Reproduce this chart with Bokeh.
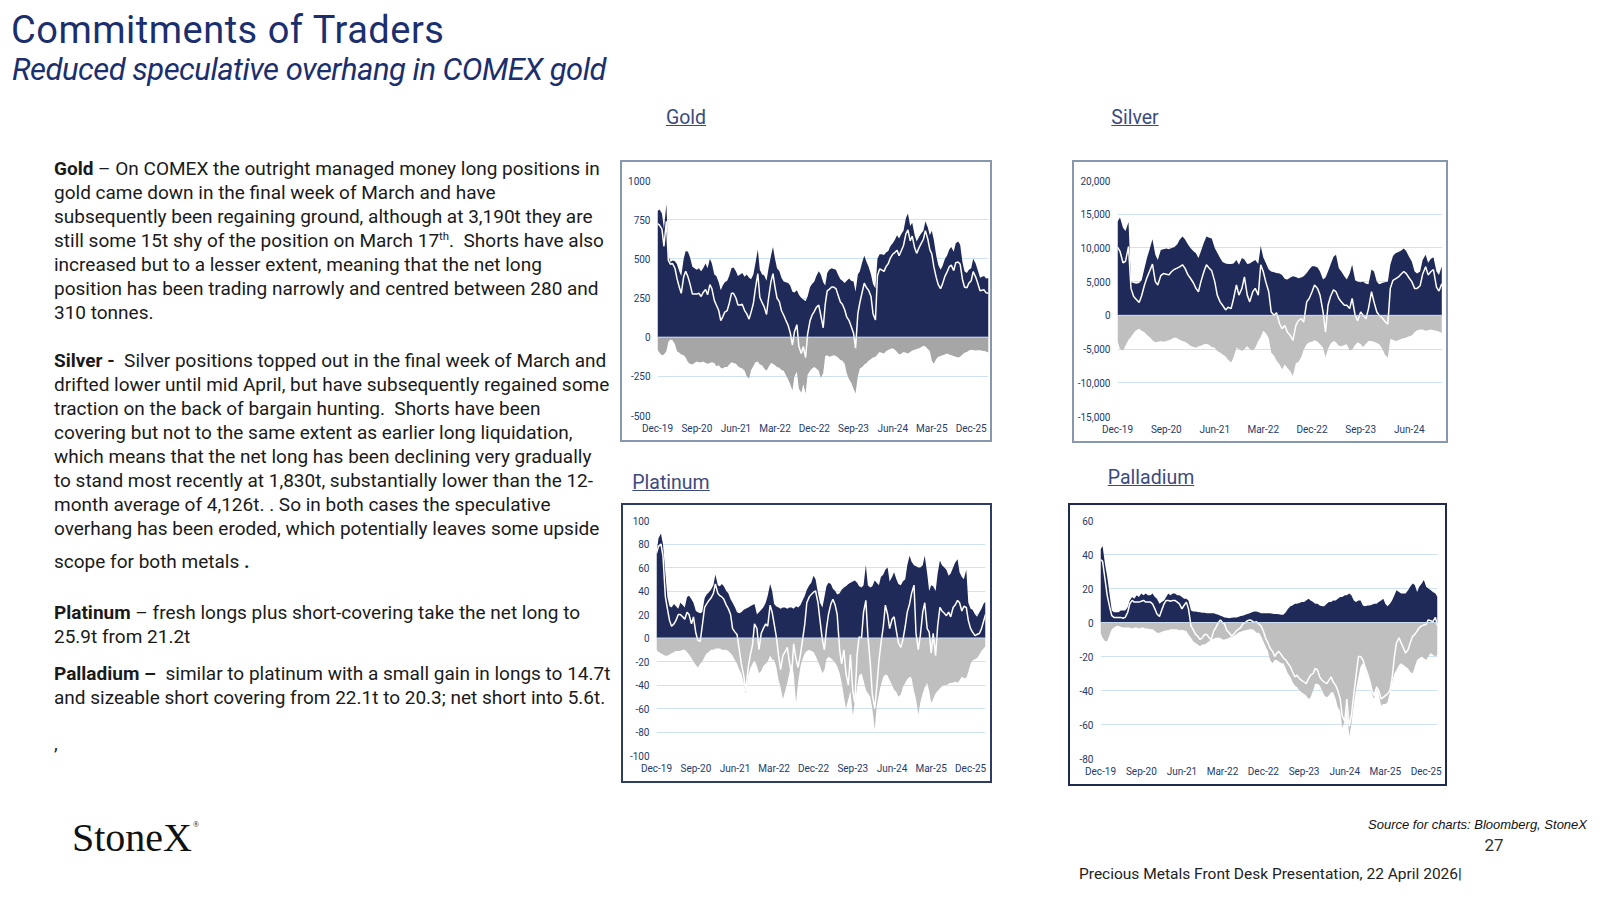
import pandas as pd
from bokeh.plotting import figure
from bokeh.models import (ColumnDataSource, Range1d, FixedTicker, DatetimeTickFormatter,
                          NumeralTickFormatter, Div, Spacer, Span)
from bokeh.layouts import row, column
from bokeh.embed import file_html
from bokeh.resources import INLINE

# ---------------- DATA (semi-monthly readings, Dec-19 onwards) ----------------
gold_long = [805, 815,
             790, 690, 850, 520, 480, 490, 485, 465, 420, 390, 500, 550, 545, 510, 450, 440, 430, 440, 420, 440, 470, 440, 500, 470,
             400, 390, 350, 300, 330, 350, 360, 390, 440, 445, 420, 390, 400, 410, 385, 400, 380, 370, 400, 470, 560, 430, 400, 395,
             360, 440, 520, 575, 500, 440, 420, 380, 355, 350, 345, 330, 290, 285, 300, 270, 250, 240, 230, 260, 320, 340, 355, 390,
             420, 400, 350, 330, 410, 430, 440, 435, 430, 400, 370, 360, 345, 360, 375, 360, 355, 290, 400, 420, 480, 520, 480, 450,
             400, 340, 310, 500, 530, 530, 525, 540, 550, 580, 600, 620, 650, 630, 660, 680, 760, 790, 710, 730, 650, 610, 640, 660,
             680, 740, 700, 650, 680, 620, 520, 460, 430, 455, 500, 520, 560, 575, 545, 600, 610, 590, 480, 420, 410, 430, 440, 500,
             470, 430, 380, 385, 390, 375, 378]
gold_short = [-80, -100,
              -115, -110, -90, -30, -15, -20, -45, -90, -100, -110, -115, -130, -160, -170, -175, -165, -155, -160, -160, -155, -165, -170, -165, -160,
              -165, -185, -180, -195, -200, -190, -190, -175, -160, -165, -170, -185, -195, -200, -215, -250, -265, -210, -185, -160, -155, -175, -180, -200,
              -215, -190, -165, -170, -180, -190, -195, -210, -215, -240, -270, -300, -340, -250, -220, -330, -355, -300, -360, -240, -215, -200, -190, -200,
              -215, -260, -230, -120, -115, -125, -120, -115, -120, -130, -145, -150, -170, -230, -270, -290, -330, -360, -250, -200, -190, -175, -165, -150,
              -140, -130, -125, -110, -95, -100, -105, -90, -80, -75, -70, -80, -95, -110, -105, -95, -100, -105, -95, -85, -80, -75, -70, -65,
              -55, -60, -75, -90, -150, -170, -140, -125, -120, -115, -110, -105, -110, -115, -120, -125, -130, -125, -110, -100, -95, -85, -80, -82,
              -85, -83, -84, -86, -88, -92, -98]
gold_net = [725, 715,
            690, 580, 740, 490, 465, 470, 440, 375, 320, 280, 385, 420, 385, 340, 275, 275, 275, 280, 260, 285, 305, 270, 335, 310,
            235, 205, 170, 105, 130, 160, 170, 215, 280, 280, 250, 205, 205, 210, 170, 150, 115, 160, 215, 310, 405, 255, 220, 195,
            145, 250, 355, 405, 320, 250, 225, 170, 140, 110, 75, 30, -50, 35, 80, -60, -105, -60, -130, 20, 105, 140, 165, 190,
            205, 140, 60, 210, 295, 305, 320, 320, 310, 270, 225, 210, 175, 130, 105, 70, 25, -70, 150, 220, 290, 345, 315, 300,
            260, 150, 110, 390, 435, 430, 420, 450, 470, 505, 530, 540, 555, 520, 555, 585, 660, 685, 615, 645, 570, 535, 570, 595,
            625, 680, 625, 560, 530, 450, 380, 335, 310, 340, 390, 415, 450, 460, 425, 475, 480, 465, 370, 320, 315, 345, 360, 418,
            385, 347, 296, 299, 302, 283, 280]

silver_long = [13900, 14500,
               13000, 12500, 13800, 4900, 4800, 4700, 4800, 5200, 7000, 8500, 10000, 11300, 9000, 8200, 9700, 9800, 9900, 9800, 10000, 10100, 10500, 11200, 11700, 11300,
               10500, 10000, 9500, 9200, 8500, 9500, 10800, 11700, 11500, 11400, 10000, 9300, 8500, 7900, 7700, 7600, 7600, 7700, 8200, 7500, 8500, 8300, 7600, 7700,
               8000, 8200, 7600, 10300, 8600, 7800, 6800, 6500, 6400, 6300, 6200, 6000, 5400, 5300, 5600, 5800, 5700, 5500, 5600, 5800, 6300, 6800, 7300, 7300,
               7100, 6500, 5300, 5600, 6500, 7500, 8700, 9000, 7000, 6500, 5800, 5300, 6200, 7500, 5200, 5000, 4900, 5000, 4700, 4600, 6800, 6500, 5000, 4600,
               4800, 4900, 5000, 7500, 8800, 9200, 9400, 9600, 9900, 9500, 8600, 8000, 6500, 6200, 6500, 8200, 9000, 7800, 8400, 8600, 6500, 6000, 7300]
silver_short = [-3800, -5000,
                -5200, -4500, -3600, -3200, -2600, -2200, -2000, -2300, -2500, -2900, -3300, -3700, -4000, -3900, -3800, -3900, -3800, -3700, -3500, -3300, -3400, -3600, -3800, -3900,
                -4200, -4500, -4700, -4800, -4600, -4500, -4300, -4200, -4400, -4700, -4800, -5300, -5500, -5800, -6100, -6600, -7000, -6200, -4800, -5000, -5300, -5000, -4600, -5000,
                -5200, -4800, -3800, -3200, -2300, -2600, -3400, -5500, -6000, -6700, -7300, -8000, -7300, -7800, -8300, -9000, -7100, -6900, -6200, -5100, -4300, -4000, -3900, -3700,
                -3900, -4300, -4800, -6200, -5000, -4200, -3800, -4000, -4500, -4600, -4400, -4300, -5200, -5100, -4400, -4000, -4300, -4700, -4200, -3800, -3800, -3900, -4100, -4300,
                -5000, -5800, -6300, -3500, -3600, -3800, -3700, -3500, -3400, -3300, -3100, -3000, -2500, -2200, -2100, -2100, -2300, -2200, -2100, -2200, -2300, -2400, -2600]
silver_net = [10100, 9500,
              7800, 8000, 10200, 4000, 2800, 2400, 1900, 2900, 4500, 5600, 6700, 7600, 5000, 4500, 5900, 6200, 6100, 6000, 6500, 6800, 7000, 7200, 7500, 7000,
              6000, 5500, 4800, 4000, 3500, 5000, 6500, 7500, 7000, 6600, 5000, 3000, 2000, 1500, 800, 1200, 1000, 2500, 4500, 3000, 4000, 5700, 3000, 2000,
              3500, 4000, 3000, 7500, 6500, 5000, 3500, 500, 0, 400, -1200, -2000, -1500, -2500, -3000, -3700, -1500, -800, -500, -1000, 2000, 2500, 3500, 4500,
              4000, 3000, 500, -2500, 1500, 2800, 3800, 3500, 2500, 2000, 1500, 1500, 1000, 2500, 0, -800, 500, 0, -500, 1000, 3500, 2000, 500, 0,
              -400, -900, -1300, 4000, 5200, 5400, 5700, 6100, 6500, 6200, 5500, 5000, 4000, 4000, 4400, 6100, 7200, 6000, 6500, 6800, 4200, 3600, 4700]

plat_long = [72, 85,
             89, 80, 55, 35, 27, 26, 29, 27, 25, 30, 28, 26, 35, 36, 33, 30, 23, 22, 21, 22, 34, 37, 39, 41,
             45, 54, 45, 44, 46, 44, 40, 38, 33, 30, 26, 22, 21, 22, 24, 25, 26, 27, 28, 29, 20, 22, 24, 26,
             30, 36, 46, 40, 29, 27, 26, 25, 26, 26, 25, 26, 26, 25, 27, 26, 28, 32, 36, 41, 45, 47, 53, 50,
             38, 30, 26, 35, 44, 47, 46, 42, 40, 37, 38, 41, 43, 44, 46, 47, 48, 49, 47, 44, 43, 45, 62, 45,
             43, 44, 49, 47, 45, 52, 54, 58, 60, 48, 52, 56, 50, 46, 45, 48, 50, 62, 70, 65, 62, 61, 60, 60,
             62, 70, 55, 40, 45, 44, 40, 55, 66, 62, 60, 58, 53, 55, 60, 64, 67, 56, 52, 50, 58, 30, 25, 24,
             20, 18, 22, 25, 29, 31]
plat_short = [-10, -12,
              -13, -14, -15, -15, -14, -13, -12, -11, -11, -11, -10, -10, -12, -14, -17, -20, -23, -25, -22, -20, -16, -13, -12, -10,
              -10, -9, -9, -9, -10, -10, -10, -11, -13, -15, -19, -22, -27, -30, -38, -47, -32, -26, -22, -19, -24, -30, -28, -24,
              -22, -20, -15, -18, -19, -24, -36, -42, -52, -46, -38, -30, -22, -30, -55, -38, -24, -18, -13, -11, -10, -11, -12, -15,
              -20, -24, -30, -27, -18, -16, -17, -19, -21, -24, -30, -38, -50, -60, -52, -45, -66, -55, -42, -32, -30, -36, -44, -47,
              -50, -60, -78, -58, -48, -40, -33, -31, -32, -36, -40, -44, -46, -50, -48, -42, -38, -35, -33, -34, -45, -52, -65, -55,
              -47, -42, -38, -45, -55, -52, -47, -45, -43, -41, -40, -40, -39, -38, -38, -37, -38, -36, -33, -34, -34, -29, -22, -19,
              -18, -17, -14, -11, -9, -7]
plat_net = [72, 78,
            80, 70, 35, 25, 15, 10, 12, 15, 20, 20, 18, 16, 22, 20, 12, 18, 4, -2, -3, 10, 26, 29, 32, 34,
            38, 46, 38, 36, 35, 33, 28, 25, 20, 8, 5, 3, -10, -22, -32, -45, -25, -15, -6, 12, 8, -10, 4, 8,
            12, 10, 28, 22, 12, 2, -15, -27, -15, -12, -8, -20, -32, -5, -18, -25, -14, -2, 12, 30, 35, 37, 39, 40,
            30, 15, -2, -10, 8, 20, 29, 33, 28, 20, -10, -22, -10, -30, -40, -14, -45, -55, -14, 1, 0, 22, 32, 2,
            -22, -48, -60, -42, -20, -5, 10, 28, 20, 8, 16, 18, 6, -4, -8, -2, 10, 22, 29, 38, 45, 4, -10, 2,
            22, 30, 8, 5, -13, 4, -15, 10, 26, 23, 21, 19, 22, 18, 26, 28, 32, 30, 23, 27, 26, 15, 8, 5,
            2, 3, 4, 8, 14, 20]

pall_long = [43, 45,
             34, 27, 16, 7, 6, 6, 6, 7, 7, 7, 9, 13, 15, 14, 16, 15, 17, 16, 17, 16, 16, 17, 15, 14,
             11, 12, 13, 15, 17, 16, 17, 17, 16, 16, 15, 14, 14, 13, 7, 6.5, 6.4, 6.2, 6, 5.8, 5.7, 5.5, 5.5, 5.5,
             5.4, 5, 4.5, 4, 3.5, 3, 2.8, 2.5, 2.8, 3, 3, 3.3, 3.8, 4, 4.5, 5, 5.5, 6, 6.5, 6.4, 6, 5.5, 5.5, 5.5,
             5.5, 5.5, 5.2, 5, 5, 4.8, 4.5, 4.5, 6, 8, 9.5, 10, 11, 11, 11.5, 12, 12, 13, 14, 13, 12, 11, 11, 10,
             9.5, 9.5, 11, 12, 12, 13, 13, 14, 15, 15, 16, 16, 17, 16, 13, 12, 13, 13, 10, 9.5, 10, 10, 10.5, 11,
             11, 12, 13, 14, 11, 9.5, 11, 13, 16, 19, 18, 17, 17, 17, 19, 21, 23, 22, 18, 21, 23, 25, 21, 20,
             19, 18, 17, 15]
pall_short = [-6, -9,
              -11, -11, -7, -4, -3, -2, -2, -2.5, -3, -3, -3, -3, -3.5, -3, -3, -3.5, -3, -3, -3.5, -3.5, -4, -4, -5, -6,
              -6, -5.5, -5, -4.5, -4.5, -4, -4, -4, -4, -4.5, -4.3, -4.5, -5, -7, -9, -11, -12, -13, -14, -13, -13, -12, -11, -10,
              -9.5, -9, -9, -9, -10, -10, -9.5, -9, -8.5, -8, -7, -6, -5.5, -5, -4.5, -4.3, -4, -4, -4.5, -6, -6, -8, -11, -14,
              -17, -22, -24, -22, -22, -23, -24, -24, -27, -30, -32, -35, -37, -38, -40, -41, -42, -43, -45, -44, -40, -36, -36, -37,
              -40, -43, -44, -43, -41, -41, -45, -50, -52, -62, -58, -50, -67, -60, -48, -40, -32, -26, -24, -26, -31, -34, -42, -45,
              -37, -42, -49, -48, -48, -47, -41, -35, -30, -28, -25, -24, -25, -26, -27, -29, -30, -26, -22, -21, -20, -21, -22, -20,
              -18, -19, -20, -19]
pall_net = [37, 36,
            25, 16, 9, 4, 3, 3, 3, 3, 2.5, 3, 6, 11, 13, 12, 12, 12, 12.5, 13, 12, 12, 12, 11, 8, 5,
            3.5, 7, 11, 13, 13, 12.5, 13, 13, 12, 11, 8, 10, 12, 8, -2, -4, -7, -8, -10, -9, -7, -7, -9, -10,
            -5, -3, 0, 1.5, 0, -1, -5, -6, -8, -7, -5, -4, -3, -1, 0, 1, 1.5, 1, 0, 0.5, -1, -2, -5, -9,
            -12, -15, -17, -20, -18, -17, -19, -21, -22, -24, -26, -29, -32, -31, -33, -34, -35, -36, -33, -31, -30, -27, -28, -32,
            -34, -35, -36, -34, -32, -35, -37, -40, -45, -55, -58, -45, -61, -55, -42, -32, -20, -20, -22, -26, -30, -34, -40, -43,
            -38, -40, -45, -44, -43, -42, -40, -33, -20, -12, -9, -12, -15, -18, -16, -12, -8, -7, -5, -3, -2, -1.5, -1, 1.5,
            1, 0.5, 3, -2]

gold_xticks = ["2019-12-01", "2020-09-01", "2021-06-01", "2022-03-01", "2022-12-01",
               "2023-09-01", "2024-06-01", "2025-03-01", "2025-12-01"]
silver_xticks = gold_xticks[:7]
gold_yticks = [-500, -250, 0, 250, 500, 750, 1000]
silver_yticks = [-15000, -10000, -5000, 0, 5000, 10000, 15000, 20000]
plat_yticks = [-100, -80, -60, -40, -20, 0, 20, 40, 60, 80, 100]
pall_yticks = [-80, -60, -40, -20, 0, 20, 40, 60]

# ---------------- STYLE ----------------
NAVY = "#1f2a58"
GRID = "#cfe2f3"
TICK_COLOR = "#243b6b"
TICK_FONT = "Roboto"


def ms(d):
    return pd.Timestamp(d).value // 10**6


def chart(long, short, net, xticks, yticks, xstart, xend, w, h, mb, short_color,
          border_color, num_fmt="0"):
    dates = pd.date_range(xstart, periods=len(long), freq="SMS")
    src = ColumnDataSource(dict(date=dates, long=long, short=short, net=net))
    p = figure(width=w, height=h, x_axis_type="datetime",
               x_range=Range1d(pd.Timestamp(xstart), pd.Timestamp(xend)),
               y_range=Range1d(yticks[0], yticks[-1]),
               output_backend="svg", toolbar_location=None,
               min_border_left=mb[0], min_border_right=mb[1],
               min_border_top=mb[2], min_border_bottom=mb[3],
               background_fill_color="white", border_fill_color="white",
               styles={"border": f"2px solid {border_color}", "box-sizing": "border-box"})
    p.outline_line_color = None
    p.varea(x="date", y1=0, y2="long", source=src, fill_color=NAVY)
    p.varea(x="date", y1=0, y2="short", source=src, fill_color=short_color)
    p.add_layout(Span(location=0, dimension="width", line_color="#c9dcf0", line_width=1))
    p.line(x="date", y="net", source=src, line_color="white", line_width=1.5)

    p.xaxis.ticker = FixedTicker(ticks=[ms(d) for d in xticks])
    fmt = "%b-%y"
    p.xaxis.formatter = DatetimeTickFormatter(
        microseconds=fmt, milliseconds=fmt, seconds=fmt, minsec=fmt, minutes=fmt,
        hourmin=fmt, hours=fmt, days=fmt, months=fmt, years=fmt)
    p.yaxis.ticker = FixedTicker(ticks=yticks)
    p.yaxis.formatter = NumeralTickFormatter(format=num_fmt)
    for ax in (p.xaxis[0], p.yaxis[0]):
        ax.axis_line_color = None
        ax.major_tick_line_color = None
        ax.minor_tick_line_color = None
        ax.major_tick_out = 0
        ax.major_tick_in = 0
        ax.major_label_text_font = TICK_FONT
        ax.major_label_text_font_size = "10px"
        ax.major_label_text_color = TICK_COLOR
    p.xaxis.major_label_standoff = 7
    p.yaxis.major_label_standoff = 7
    p.xgrid.grid_line_color = None
    p.ygrid.grid_line_color = GRID
    p.ygrid.grid_line_width = 1
    return p


gold_p = chart(gold_long, gold_short, gold_net, gold_xticks, gold_yticks,
               "2019-12-01", "2026-04-01", 372, 282, (35, 6, 14, 29), "#a6a6a6", "#8797ad")
silver_p = chart(silver_long, silver_short, silver_net, silver_xticks, silver_yticks,
                 "2019-12-01", "2024-12-05", 376, 283, (43, 8, 18, 27), "#bfbfbf", "#8797ad", "0,0")
plat_p = chart(plat_long, plat_short, plat_net, gold_xticks, plat_yticks,
               "2019-12-01", "2026-03-15", 371, 280, (33, 9, 15, 27), "#bfbfbf", "#2e3c66")
pall_p = chart(pall_long, pall_short, pall_net, gold_xticks, pall_yticks,
               "2019-12-01", "2026-02-15", 379, 283, (30, 12, 14, 30), "#bfbfbf", "#1f2a50")

# ---------------- TEXT HELPERS ----------------
METRICS = {"Roboto": (0.928, 0.244), "Liberation Serif": (0.891, 0.216),
           "Liberation Sans": (0.905, 0.212)}


def txt(x, base, html, size, fam="Roboto", color="#1a1a1a", weight=400, style="normal",
        align="left", ls=0, deco="none", lhf=1.0):
    asc, desc = METRICS[fam]
    lh = size * lhf
    top = base - ((lh - (asc + desc) * size) / 2 + asc * size)
    if align == "left":
        pos = f"left:{x}px;"
    elif align == "center":
        pos = f"left:{x}px;transform:translateX(-50%);"
    else:
        pos = f"right:{x}px;"
    return (f'<div style="position:absolute;{pos}top:{top:.1f}px;font-family:\'{fam}\';'
            f'font-size:{size}px;line-height:{lh:.1f}px;color:{color};font-weight:{weight};'
            f'font-style:{style};letter-spacing:{ls}px;text-decoration:{deco};'
            f'white-space:nowrap;">{html}</div>')


def box(w, h, parts):
    inner = "".join(parts)
    return Div(text=f'<div style="position:relative;width:{w}px;height:{h}px;">{inner}</div>',
               width=w, height=h, margin=0)


TITLE_C = "#1b2f6e"
header = box(1584, 95, [
    txt(3, 35, "Commitments of Traders", 38, color=TITLE_C, ls=0.5, lhf=0.85),
    txt(4, 73, "Reduced speculative overhang in COMEX gold", 31, color=TITLE_C,
        style="italic", ls=-0.5, lhf=0.85),
])

SUP = '<sup style="font-size:0.6em;line-height:0;vertical-align:super;">th</sup>'
para_lines = [
    (175, "<b>Gold</b> – On COMEX the outright managed money long positions in"),
    (199, "gold came down in the final week of March and have"),
    (223, "subsequently been regaining ground, although at 3,190t they are"),
    (247, f"still some 15t shy of the position on March 17{SUP}.&nbsp; Shorts have also"),
    (271, "increased but to a lesser extent, meaning that the net long"),
    (295, "position has been trading narrowly and centred between 280 and"),
    (319, "310 tonnes."),
    (367, "<b>Silver -</b>&nbsp; Silver positions topped out in the final week of March and"),
    (391, "drifted lower until mid April, but have subsequently regained some"),
    (415, "traction on the back of bargain hunting.&nbsp; Shorts have been"),
    (439, "covering but not to the same extent as earlier long liquidation,"),
    (463, "which means that the net long has been declining very gradually"),
    (487, "to stand most recently at 1,830t, substantially lower than the 12-"),
    (511, "month average of 4,126t. . So in both cases the speculative"),
    (535, "overhang has been eroded, which potentially leaves some upside"),
    (568, "scope for both metals <b>.</b>"),
    (619, "<b>Platinum</b> – fresh longs plus short-covering take the net long to"),
    (643, "25.9t from 21.2t"),
    (680, "<b>Palladium – </b>&nbsp;similar to platinum with a small gain in longs to 14.7t"),
    (704, "and sizeable short covering from 22.1t to 20.3; net short into 5.6t."),
    (750, ","),
]
left = box(598, 683, [txt(46, b - 103, s, 19) for b, s in para_lines])

CT_C = "#3d4b7c"
titles1 = box(986, 57, [
    txt(80, 21, "Gold", 19.5, color=CT_C, align="center", deco="underline"),
    txt(529, 21, "Silver", 19.5, color=CT_C, align="center", deco="underline"),
])
titles2 = box(986, 60, [
    txt(65, 46, "Platinum", 19.5, color=CT_C, align="center", deco="underline"),
    txt(545, 41, "Palladium", 19.5, color=CT_C, align="center", deco="underline"),
])

row1 = row(Spacer(width=14, height=283, margin=0), gold_p,
           Spacer(width=80, height=283, margin=0), silver_p)
row2 = row(Spacer(width=15, height=283, margin=0), plat_p,
           Spacer(width=76, height=283, margin=0), pall_p)
charts = column(titles1, row1, titles2, row2)

footer = box(1584, 106, [
    txt(64, 65, 'StoneX<span style="font-size:8px;position:relative;top:-24px;left:1px;">®</span>',
        40, fam="Liberation Serif", color="#111111"),
    txt(5, 43, "Source for charts: Bloomberg, StoneX", 13, fam="Liberation Sans",
        color="#111111", style="italic", align="right"),
    txt(1486, 65, "27", 17, color="#333333", align="center"),
    txt(1071, 94, "Precious Metals Front Desk Presentation, 22 April 2026|", 15.5,
        color="#222222"),
])

content = column(header, row(left, charts), footer)
page = column(Spacer(width=1592, height=8, margin=0),
              row(Spacer(width=8, height=884, margin=0), content))

open("out.html", "w").write(file_html(page, INLINE, title="Commitments of Traders"))
